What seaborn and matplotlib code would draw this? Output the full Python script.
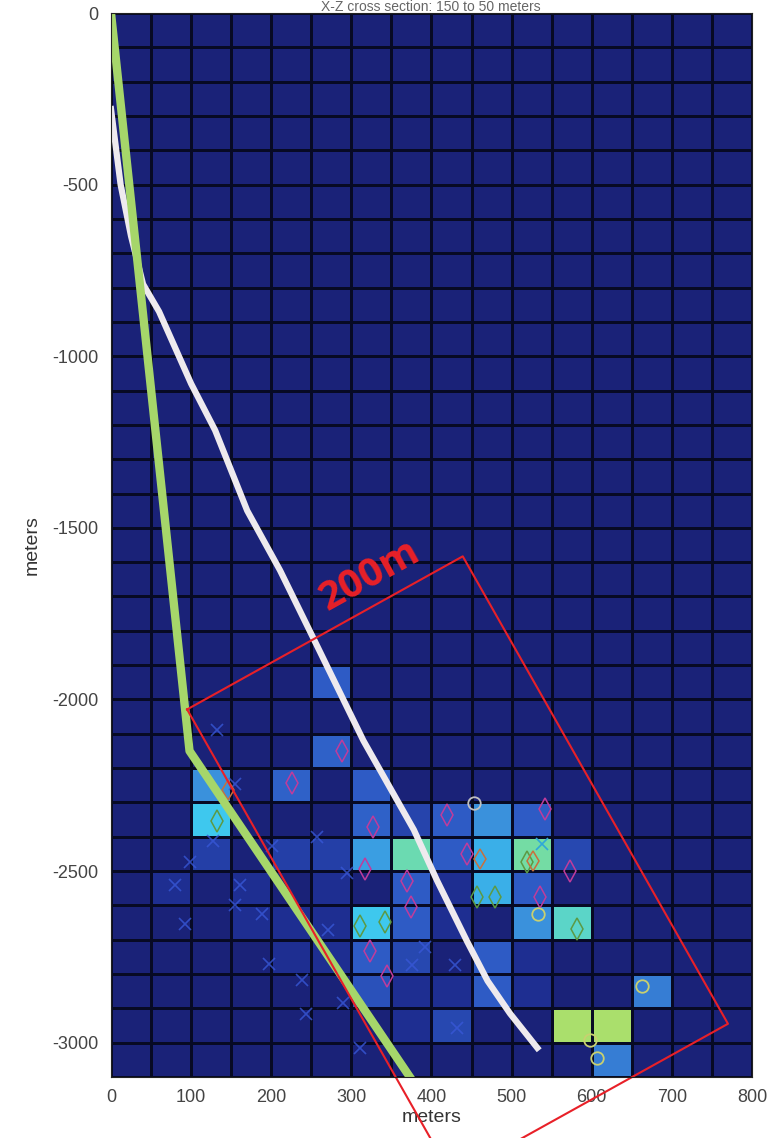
import numpy as np
import pandas as pd
import matplotlib
matplotlib.use("Agg")
import matplotlib.pyplot as plt
import seaborn as sns
from matplotlib.colors import LinearSegmentedColormap

plt.rcParams["axes.unicode_minus"] = False

# grid of 50 m x 100 m cells
x_left = np.arange(0, 800, 50)
z_top = np.arange(0, -3100, -100)

# cells that are not background (left edge, top edge, value)
cell_x = [250, 250, 100, 100, 200, 300, 300, 350, 400, 450, 500,
          100, 200, 250, 300, 350, 400, 450, 500, 550,
          350, 450, 500, 300, 350, 500, 550,
          300, 350, 450, 300, 450, 650, 400, 550, 600, 600,
          50, 150, 150, 200, 250, 250, 400, 400, 250, 200, 400, 350, 350, 500, 500]
cell_z = [-1900, -2100, -2200, -2300, -2200, -2200, -2300, -2300, -2300, -2300, -2300,
          -2400, -2400, -2400, -2400, -2400, -2400, -2400, -2400, -2400,
          -2500, -2500, -2500, -2600, -2600, -2600, -2600,
          -2700, -2700, -2700, -2800, -2800, -2800, -2900, -2900, -2900, -3000,
          -2500, -2500, -2600, -2600, -2500, -2600, -2500, -2600, -2700, -2700, -2800, -2800, -2900, -2700, -2800]
cell_val = [4, 4.2, 5.6, 7, 4.2, 4, 4.2, 2.8, 4, 5.6, 4,
            2.5, 2.5, 2.5, 6, 8, 4, 6.5, 8.2, 3,
            4, 6.5, 4, 7, 4, 5.6, 7.6,
            4, 3, 4, 3.5, 4, 5, 3, 9, 9, 5,
            1.2, 1.2, 1.2, 1.2, 1.2, 1.2, 1.2, 1.2, 1.2, 1.2, 1.2, 1.2, 1.2, 1.2, 1.2]

# well paths
green_x = [0, 98, 373]
green_z = [0, -2150, -3100]
white_x = [0, 12, 25, 40, 60, 100, 130, 170, 211, 252, 315, 378, 407, 444, 470, 498, 532]
white_z = [-280, -500, -650, -790, -870, -1080, -1216, -1450, -1624, -1819,
           -2120, -2380, -2528, -2703, -2820, -2915, -3015]

# event markers
xm_x = [132, 155, 127, 99, 80, 161, 155, 188, 92, 201, 257, 295, 271, 238,
        243, 311, 290, 392, 376, 429, 432, 197]
xm_z = [-2090, -2245, -2411, -2475, -2542, -2542, -2600, -2624, -2653, -2426, -2402,
        -2507, -2673, -2816, -2915, -3015, -2883, -2722, -2775, -2775, -2956, -2770]
xc_x = [538]
xc_z = [-2420]
dm_x = [288, 226, 327, 419, 444, 369, 375, 317, 542, 573, 535, 323, 344]
dm_z = [-2149, -2242, -2373, -2338, -2449, -2528, -2606, -2493, -2318, -2499, -2577, -2732, -2805]
dg_x = [132, 311, 342, 519, 457, 479, 582]
dg_z = [-2353, -2660, -2648, -2475, -2577, -2577, -2668]
do_x = [146, 460, 527]
do_z = [-2265, -2464, -2470]
cg_x = [453]
cg_z = [-2303]
cy_x = [533, 663, 606, 598]
cy_z = [-2624, -2834, -3044, -2992]

# zone outline
box_x = [95, 439, 770, 426, 95]
box_z = [-2029, -1583, -2945, -3391, -2029]

grid = np.zeros((len(z_top), len(x_left)))
for cx, cz, v in zip(cell_x, cell_z, cell_val):
    grid[int(-cz / 100), int(cx / 50)] = v
df = pd.DataFrame(grid, index=z_top, columns=x_left)

cmap = LinearSegmentedColormap.from_list("p", [
    (0.0, "#1a2278"), (0.13, "#1e2e90"), (0.3, "#2542aa"), (0.45, "#2e5cc6"),
    (0.62, "#3a90dc"), (0.72, "#3aaee8"), (0.78, "#3ec8ee"), (0.85, "#5cd6c6"),
    (0.91, "#72dca6"), (1.0, "#aadf6c")])

fig = plt.figure(figsize=(7.76, 11.38), dpi=100)
pos = [111 / 776, 1 - 1077 / 1138, 641 / 776, 1064 / 1138]
ax = fig.add_axes(pos)
sns.heatmap(df, ax=ax, cmap=cmap, vmin=0, vmax=9, cbar=False,
            linewidths=1.8, linecolor="#070a24",
            xticklabels=False, yticklabels=False)
ax.set_xlabel("")
ax.set_ylabel("")

ax2 = fig.add_axes(pos)
ax2.patch.set_alpha(0)
ax2.plot(xm_x, xm_z, "x", color="#3858d8", ms=8, mew=1.2, alpha=0.8)
ax2.plot(xc_x, xc_z, "x", color="#30a8d8", ms=8, mew=1.2)
ax2.plot(dm_x, dm_z, "d", mfc="none", mec="#c03c9c", ms=11, mew=1.1)
ax2.plot(dg_x, dg_z, "d", mfc="none", mec="#5c9a44", ms=11, mew=1.1)
ax2.plot(do_x, do_z, "d", mfc="none", mec="#c8703c", ms=10, mew=1.1)
ax2.plot(cg_x, cg_z, "o", mfc="none", mec="#c0c0c0", ms=9, mew=1.3)
ax2.plot(cy_x, cy_z, "o", mfc="none", mec="#c8d070", ms=9, mew=1.3)
sns.lineplot(x=white_x, y=white_z, sort=False, estimator=None, ax=ax2,
             color="#eeeaee", linewidth=4.5)
sns.lineplot(x=green_x, y=green_z, sort=False, estimator=None, ax=ax2,
             color="#a6d66a", linewidth=6)
ax2.plot(box_x, box_z, color="#e82028", linewidth=1.5, clip_on=False)
ax2.text(323, -1640, "200m", color="#e82028", fontsize=29, fontweight="bold",
         family="Open Sans", rotation=29, ha="center", va="center")

ax2.set_xlim(0, 800)
ax2.set_ylim(-3100, 0)
ax2.set_xticks(np.arange(0, 801, 100))
ax2.set_yticks(np.arange(-3000, 1, 500))
ax2.tick_params(length=0, labelsize=13, labelcolor="#444444", pad=9)
for lab in ax2.get_xticklabels() + ax2.get_yticklabels():
    lab.set_family("Liberation Sans")
for s in ax2.spines.values():
    s.set_color("#222222")
ax2.set_xlabel("meters", fontsize=14, color="#333333", family="Liberation Sans", labelpad=2)
ax2.set_ylabel("meters", fontsize=14, color="#333333", family="Liberation Sans", labelpad=8)

fig.text(0.555, 1 - 11 / 1138, "X-Z cross section: 150 to 50 meters", ha="center",
         va="baseline", fontsize=10, color="#666666", family="Liberation Sans")

fig.savefig("out.png", dpi=100)
